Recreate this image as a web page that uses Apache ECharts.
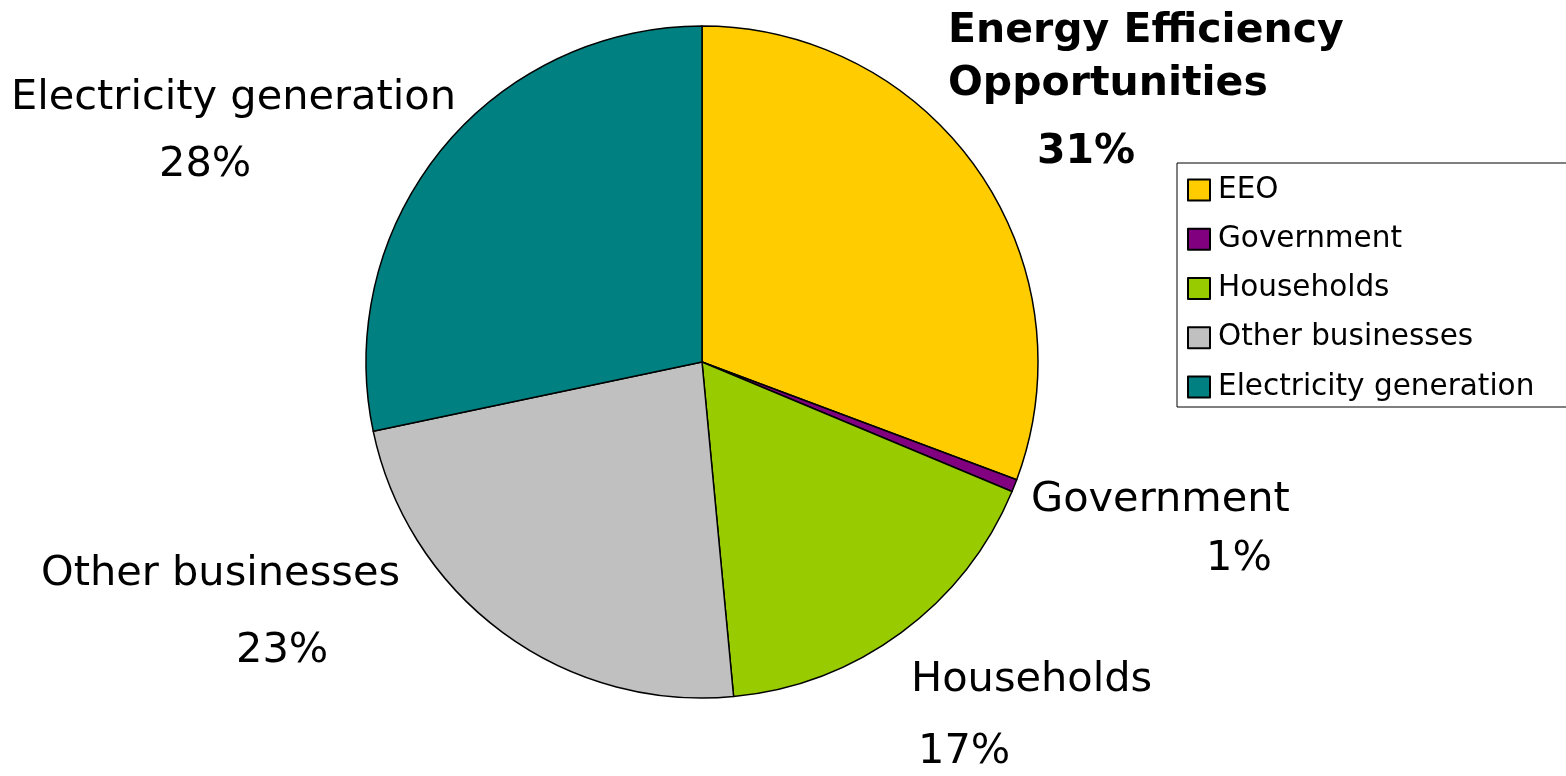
<!DOCTYPE html>
<html>
<head>
<meta charset="utf-8">
<script src="https://cdn.jsdelivr.net/npm/echarts@6/dist/echarts.min.js"></script>
<style>
  html, body { margin: 0; padding: 0; background: #fff; }
  #chart { width: 1566px; height: 776px; }
</style>
</head>
<body>
<div id="chart"></div>
<script>
// data
var sectors = ["EEO", "Government", "Households", "Other businesses", "Electricity generation"];
var shares = [30.7, 0.6, 17.2, 23.2, 28.3];
var labelNames = ["Energy Efficiency\nOpportunities", "Government", "Households", "Other businesses", "Electricity generation"];
var sectorColors = ["#FFCC00", "#800080", "#99CC00", "#C0C0C0", "#008080"];

// where each label sits (left x, top y, line gap, indent of the percent line)
var labelSpots = [
  { x: 948, y: 5, gap: 53, lastGap: 83, pad: 89 },
  { x: 1031, y: 471, gap: 59, lastGap: 59, pad: 175 },
  { x: 911, y: 644.5, gap: 72, lastGap: 72, pad: 7 },
  { x: 41, y: 536, gap: 77, lastGap: 77, pad: 195 },
  { x: 11, y: 65, gap: 67, lastGap: 67, pad: 148 }
];

var font = "'DejaVu Sans', sans-serif";

var pieData = sectors.map(function (name, i) {
  var spot = labelSpots[i];
  var bold = i === 0 ? "bold" : "normal";
  var size = i === 0 ? 41 : 41.5;
  return {
    name: name,
    value: shares[i],
    itemStyle: { color: sectorColors[i] },
    label: {
      rich: {
        n: { fontFamily: font, fontSize: size, fontWeight: bold, color: "#000", lineHeight: spot.gap },
        p: { fontFamily: font, fontSize: size, fontWeight: bold, color: "#000", lineHeight: spot.lastGap, padding: [0, 0, 0, spot.pad] }
      }
    }
  };
});

var chart = echarts.init(document.getElementById("chart"), null, { renderer: "canvas" });

var option = {
  animation: false,
  backgroundColor: "#fff",
  legend: {
    orient: "vertical",
    left: 1177,
    top: 163,
    padding: [12, 80, 5, 10],
    itemWidth: 22,
    itemHeight: 21,
    itemGap: 19.25,
    icon: "rect",
    selectedMode: false,
    borderColor: "#000",
    borderWidth: 1,
    data: sectors,
    textStyle: { fontFamily: font, fontSize: 29.5, lineHeight: 28, color: "#000", padding: [0, 0, 0, 3] }
  },
  series: [
    {
      type: "pie",
      center: [702, 362],
      radius: 336,
      startAngle: 90,
      clockwise: true,
      avoidLabelOverlap: false,
      itemStyle: { borderColor: "#000", borderWidth: 1.5 },
      emphasis: { disabled: true },
      label: {
        show: true,
        position: "outside",
        formatter: function (params) {
          var names = labelNames[params.dataIndex].split("\n");
          var txt = names.map(function (s) { return "{n|" + s + "}"; }).join("\n");
          return txt + "\n{p|" + Math.round(params.percent) + "%}";
        }
      },
      labelLine: { show: false },
      labelLayout: function (params) {
        var spot = labelSpots[params.dataIndex];
        return { x: spot.x, y: spot.y, align: "left", verticalAlign: "top" };
      },
      data: pieData
    }
  ]
};

chart.setOption(option);
</script>
</body>
</html>
